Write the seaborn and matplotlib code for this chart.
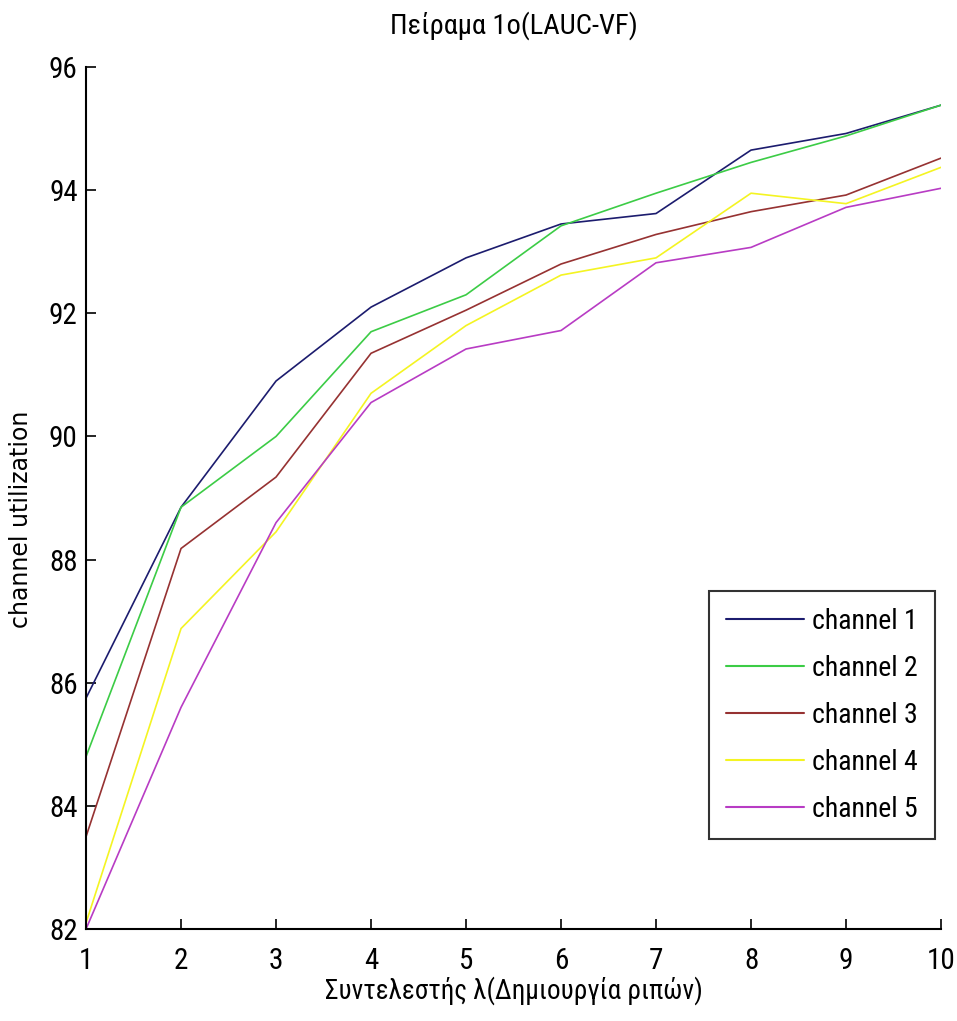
import numpy as np
import pandas as pd
import matplotlib
matplotlib.use("Agg")
import matplotlib.pyplot as plt
from matplotlib import font_manager
import seaborn as sns

x_vals = [1, 2, 3, 4, 5, 6, 7, 8, 9, 10]
channel_1 = [85.75, 88.85, 90.9, 92.1, 92.9, 93.45, 93.62, 94.65, 94.92, 95.38]
channel_2 = [84.8, 88.85, 90.0, 91.7, 92.3, 93.42, 93.95, 94.45, 94.88, 95.38]
channel_3 = [83.5, 88.18, 89.34, 91.35, 92.05, 92.8, 93.28, 93.65, 93.92, 94.52]
channel_4 = [82.1, 86.88, 88.45, 90.7, 91.8, 92.62, 92.9, 93.95, 93.78, 94.37]
channel_5 = [82.0, 85.6, 88.6, 90.55, 91.42, 91.72, 92.82, 93.07, 93.72, 94.03]
labels = ["channel 1", "channel 2", "channel 3", "channel 4", "channel 5"]
colors = ["#1c1c6e", "#3ccc46", "#963232", "#f4f422", "#b83cc4"]

title = "Πείραμα 1ο(LAUC-VF)"
xlabel = "Συντελεστής λ(Δημιουργία ριπών)"
ylabel = "channel utilization"

series = [channel_1, channel_2, channel_3, channel_4, channel_5]
df = pd.DataFrame({
    "x": np.tile(x_vals, len(series)),
    "y": np.concatenate(series),
    "channel": np.repeat(labels, len(x_vals)),
})

# prefer a condensed face if one is installed
names = {f.name for f in font_manager.fontManager.ttflist}
cond = None
for cand in ["Liberation Sans Narrow", "DejaVu Sans Condensed", "Roboto Condensed",
             "Open Sans Condensed", "Noto Sans Condensed"]:
    if cand in names:
        cond = cand
        break
has_cond_dejavu = any(f.name == "DejaVu Sans" and f.stretch in ("condensed", 700, "semi-condensed")
                      for f in font_manager.fontManager.ttflist)

sns.set_theme(style="white")
if cond:
    plt.rcParams["font.family"] = [cond, "DejaVu Sans"]
    narrow = True
elif has_cond_dejavu:
    plt.rcParams["font.family"] = ["DejaVu Sans"]
    plt.rcParams["font.stretch"] = "condensed"
    narrow = True
else:
    plt.rcParams["font.family"] = ["DejaVu Sans"]
    narrow = False

tick_fs = 21 if narrow else 18
title_fs = 20.5 if narrow else 16.5
xl_fs = 19.5 if narrow else 15.5
leg_fs = 20 if narrow else 15.5

fig = plt.figure(figsize=(9.57, 10.21), dpi=100)
ax = fig.add_axes([0.0899, 0.0901, 0.8934, 0.8443])

sns.lineplot(data=df, x="x", y="y", hue="channel", palette=colors,
             hue_order=labels, linewidth=1.2, ax=ax, legend=True)

ax.set_xlim(1, 10)
ax.set_ylim(82, 96)
ax.set_xticks(x_vals)
ax.set_yticks([82, 84, 86, 88, 90, 92, 94, 96])
ax.tick_params(direction="in", length=7, width=1.2, colors="black",
               labelsize=tick_fs, bottom=True, left=True, pad=6)
ax.tick_params(axis="x", pad=13)
for s in ["top", "right"]:
    ax.spines[s].set_visible(False)
for s in ["left", "bottom"]:
    ax.spines[s].set_color("black")
    ax.spines[s].set_linewidth(1.5)

ax.set_title(title, fontsize=title_fs, pad=24, color="black")
ax.set_xlabel(xlabel, fontsize=xl_fs, labelpad=1, color="black")
ax.set_ylabel(ylabel, fontsize=17, color="black",
              family="DejaVu Sans", fontstretch="normal")
ax.yaxis.set_label_coords(-0.062, 0.475)

leg = ax.legend(loc="upper left", bbox_to_anchor=(0.729, 0.392),
                fontsize=leg_fs, frameon=True, fancybox=False,
                handlelength=2.8, handletextpad=0.3, labelspacing=0.72,
                borderpad=0.6, borderaxespad=0)
leg.get_frame().set_edgecolor("black")
leg.get_frame().set_linewidth(1.5)
for line in leg.get_lines():
    line.set_linewidth(1.5)
for t in leg.get_texts():
    t.set_color("black")

fig.savefig("out.png", dpi=100)
